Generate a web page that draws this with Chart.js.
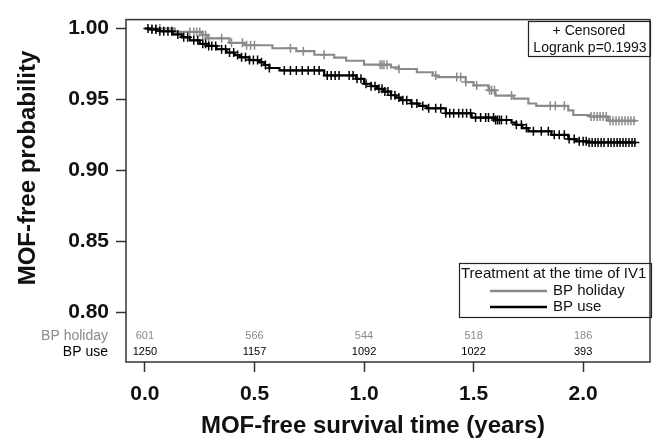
<!DOCTYPE html>
<html>
<head>
<meta charset="utf-8">
<script src="https://cdn.jsdelivr.net/npm/chart.js@4.4.1/dist/chart.umd.min.js"></script>
<style>
  html, body { margin: 0; padding: 0; background: #fff; }
  #wrap { width: 656px; height: 445px; position: relative; }
</style>
</head>
<body>
<div id="wrap"><canvas id="km" width="656" height="445"></canvas></div>
<script>
// Kaplan-Meier step points (time in years, survival probability)
const holidayTimes = [0, 0.136, 0.259, 0.286, 0.386, 0.455, 0.582, 0.691, 0.773, 0.864, 0.918, 1.0, 1.123, 1.159, 1.241, 1.314, 1.336, 1.464, 1.5, 1.568, 1.6, 1.682, 1.75, 1.786, 1.932, 1.955, 2.032, 2.114, 2.241];
const holidaySurv = [1.0, 0.9976, 0.9955, 0.9931, 0.9899, 0.9882, 0.9861, 0.9840, 0.9815, 0.9795, 0.9773, 0.9745, 0.9727, 0.9715, 0.9692, 0.9669, 0.9658, 0.9623, 0.9599, 0.9565, 0.9528, 0.9507, 0.9472, 0.9456, 0.9424, 0.9391, 0.9380, 0.9351, 0.9351];

const useTimes = [0, 0.023, 0.068, 0.127, 0.168, 0.205, 0.25, 0.282, 0.327, 0.373, 0.409, 0.432, 0.477, 0.523, 0.545, 0.568, 0.614, 0.818, 0.964, 1.0, 1.032, 1.059, 1.091, 1.123, 1.145, 1.168, 1.214, 1.25, 1.286, 1.373, 1.491, 1.6, 1.673, 1.695, 1.723, 1.75, 1.855, 1.932, 1.968, 2.023, 2.241];
const useSurv = [1.0, 0.9993, 0.998, 0.9958, 0.9938, 0.9917, 0.9892, 0.9877, 0.9854, 0.9831, 0.9813, 0.9797, 0.9778, 0.9762, 0.9743, 0.9722, 0.9705, 0.967, 0.9646, 0.9611, 0.9594, 0.9576, 0.9556, 0.953, 0.9514, 0.9495, 0.9472, 0.9455, 0.9438, 0.9403, 0.9373, 0.9356, 0.9338, 0.9322, 0.9299, 0.9276, 0.9252, 0.9222, 0.9206, 0.9198, 0.9198];

// censoring times (years)
const holidayCensor = [0.032, 0.05, 0.068, 0.205, 0.223, 0.236, 0.25, 0.264, 0.277, 0.291, 0.35, 0.395, 0.445, 0.464, 0.482, 0.5, 0.664, 0.723, 0.818, 1.073, 1.082, 1.091, 1.105, 1.159, 1.327, 1.423, 1.441, 1.464, 1.514, 1.573, 1.582, 1.595, 1.673, 1.85, 1.873, 1.914, 2.036, 2.05, 2.064, 2.077, 2.091, 2.105, 2.123, 2.136, 2.15, 2.164, 2.177, 2.191, 2.205, 2.218, 2.232];
const useCensor = [0.014, 0.032, 0.05, 0.068, 0.086, 0.105, 0.123, 0.15, 0.177, 0.195, 0.223, 0.241, 0.264, 0.277, 0.291, 0.305, 0.323, 0.35, 0.368, 0.386, 0.405, 0.423, 0.441, 0.459, 0.477, 0.495, 0.514, 0.532, 0.55, 0.568, 0.636, 0.664, 0.691, 0.718, 0.745, 0.773, 0.795, 0.832, 0.85, 0.868, 0.886, 0.932, 0.95, 0.968, 0.986, 1.009, 1.032, 1.05, 1.068, 1.082, 1.095, 1.109, 1.123, 1.141, 1.159, 1.177, 1.195, 1.218, 1.241, 1.268, 1.295, 1.327, 1.35, 1.373, 1.391, 1.409, 1.432, 1.45, 1.468, 1.486, 1.509, 1.532, 1.555, 1.568, 1.591, 1.6, 1.609, 1.618, 1.627, 1.65, 1.695, 1.718, 1.741, 1.773, 1.809, 1.841, 1.868, 1.891, 1.914, 1.936, 1.959, 1.982, 2.0, 2.014, 2.027, 2.041, 2.055, 2.068, 2.082, 2.095, 2.114, 2.127, 2.141, 2.155, 2.168, 2.182, 2.195, 2.209, 2.223, 2.236];

// number at risk table
const riskTimes = [0, 0.5, 1.0, 1.5, 2.0];
const riskHoliday = [601, 566, 544, 518, 186];
const riskUse = [1250, 1157, 1092, 1022, 393];

const xTicks = [0, 0.5, 1.0, 1.5, 2.0];
const yTicks = [0.80, 0.85, 0.90, 0.95, 1.00];

const GRAY = '#8a8a8a';
const FONT = '"Liberation Sans", Arial, Helvetica, sans-serif';

// survival value at time t (last step at or before t)
function survAt(times, surv, t) {
    let v = surv[0];
    for (let i = 0; i < times.length; i++) {
        if (times[i] <= t) v = surv[i];
    }
    return v;
}

const toXY = (times, surv) => times.map((t, i) => ({ x: t, y: surv[i] }));
const censorXY = (cens, times, surv) => cens.map(t => ({ x: t, y: survAt(times, surv, t) }));

// frame, titles, legends and the at-risk table
const decorations = {
    id: 'decorations',
    afterDraw(chart) {
        const { ctx, chartArea: a, scales } = chart;
        const xs = scales.x, ys = scales.y;
        ctx.save();

        // plot frame
        ctx.strokeStyle = '#333';
        ctx.lineWidth = 1.5;
        ctx.strokeRect(a.left, a.top, a.right - a.left, a.bottom - a.top);

        // axis titles
        ctx.fillStyle = '#111';
        ctx.font = 'bold 24px ' + FONT;
        ctx.textAlign = 'center';
        ctx.textBaseline = 'middle';
        ctx.fillText('MOF-free survival time (years)', 373, 426);
        ctx.save();
        ctx.translate(28, 168);
        ctx.rotate(-Math.PI / 2);
        ctx.fillText('MOF-free probability', 0, 0);
        ctx.restore();

        // number at risk
        const rowHoliday = ys.getPixelForValue(0.7833);
        const rowUse = ys.getPixelForValue(0.7722);
        ctx.font = '14px ' + FONT;
        ctx.textAlign = 'right';
        ctx.fillStyle = GRAY;
        ctx.fillText('BP holiday', a.left - 18, rowHoliday);
        ctx.fillStyle = '#000';
        ctx.fillText('BP use', a.left - 18, rowUse);
        ctx.font = '11px ' + FONT;
        ctx.textAlign = 'center';
        riskTimes.forEach((t, i) => {
            const px = xs.getPixelForValue(t);
            ctx.fillStyle = GRAY;
            ctx.fillText(String(riskHoliday[i]), px, rowHoliday);
            ctx.fillStyle = '#000';
            ctx.fillText(String(riskUse[i]), px, rowUse);
        });

        // top-right box
        ctx.strokeStyle = '#222';
        ctx.lineWidth = 1.2;
        ctx.strokeRect(528.5, 21.5, 122, 35);
        ctx.fillStyle = '#111';
        ctx.font = '14px ' + FONT;
        ctx.fillText('+ Censored', 589, 31);
        ctx.fillText('Logrank p=0.1993', 590, 48);

        // treatment legend
        ctx.strokeRect(459.5, 263.5, 192, 54);
        ctx.font = '15px ' + FONT;
        ctx.textAlign = 'left';
        ctx.fillText('Treatment at the time of IV1', 461, 274);
        ctx.lineWidth = 2.5;
        ctx.strokeStyle = GRAY;
        ctx.beginPath(); ctx.moveTo(490, 291); ctx.lineTo(547, 291); ctx.stroke();
        ctx.strokeStyle = '#000';
        ctx.beginPath(); ctx.moveTo(490, 307); ctx.lineTo(547, 307); ctx.stroke();
        ctx.fillText('BP holiday', 553, 291);
        ctx.fillText('BP use', 553, 307);

        ctx.restore();
    }
};

new Chart(document.getElementById('km'), {
    type: 'scatter',
    data: {
        datasets: [
            {
                label: 'BP holiday',
                data: toXY(holidayTimes, holidaySurv),
                showLine: true,
                stepped: 'before',
                borderColor: GRAY,
                borderWidth: 2.2,
                pointRadius: 0,
                order: 4
            },
            {
                label: 'BP holiday censored',
                data: censorXY(holidayCensor, holidayTimes, holidaySurv),
                showLine: false,
                pointStyle: 'cross',
                pointRadius: 4.5,
                borderColor: GRAY,
                borderWidth: 1.5,
                order: 3
            },
            {
                label: 'BP use',
                data: toXY(useTimes, useSurv),
                showLine: true,
                stepped: 'before',
                borderColor: '#000',
                borderWidth: 2.2,
                pointRadius: 0,
                order: 2
            },
            {
                label: 'BP use censored',
                data: censorXY(useCensor, useTimes, useSurv),
                showLine: false,
                pointStyle: 'cross',
                pointRadius: 4.5,
                borderColor: '#000',
                borderWidth: 1.5,
                order: 1
            }
        ]
    },
    options: {
        responsive: false,
        animation: false,
        devicePixelRatio: 1,
        layout: { padding: { top: 15, right: 4, left: 0, bottom: 0 } },
        plugins: {
            legend: { display: false },
            tooltip: { enabled: false }
        },
        scales: {
            x: {
                type: 'linear',
                min: -0.0864,
                max: 2.305,
                afterBuildTicks: (s) => { s.ticks = xTicks.map(v => ({ value: v })); },
                afterFit: (s) => { s.height = 83; },
                border: { display: false },
                grid: {
                    drawOnChartArea: false,
                    drawTicks: true,
                    tickLength: 10,
                    tickColor: '#333',
                    tickWidth: 1.5
                },
                ticks: {
                    color: '#111',
                    font: { family: FONT, size: 21, weight: 'bold' },
                    padding: 10,
                    maxRotation: 0,
                    callback: (v) => Number(v).toFixed(1)
                }
            },
            y: {
                type: 'linear',
                min: 0.7653,
                max: 1.00625,
                afterBuildTicks: (s) => { s.ticks = yTicks.map(v => ({ value: v })); },
                afterFit: (s) => { s.width = 126; },
                border: { display: false },
                grid: {
                    drawOnChartArea: false,
                    drawTicks: true,
                    tickLength: 10,
                    tickColor: '#333',
                    tickWidth: 1.5
                },
                ticks: {
                    color: '#111',
                    font: { family: FONT, size: 21, weight: 'bold' },
                    padding: 7,
                    callback: (v) => Number(v).toFixed(2)
                }
            }
        }
    },
    plugins: [decorations]
});
</script>
</body>
</html>
